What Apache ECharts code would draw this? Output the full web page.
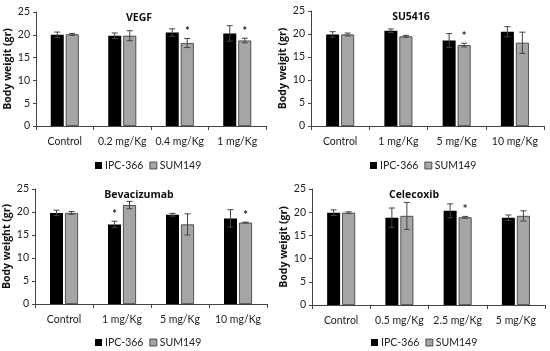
<!DOCTYPE html>
<html>
<head>
<meta charset="utf-8">
<script src="https://cdn.jsdelivr.net/npm/echarts@6/dist/echarts.min.js"></script>
<style>html,body{margin:0;padding:0;background:#fff;}#c{width:550px;height:351px;}</style>
</head>
<body>
<div id="c"></div>
<script>
// ---- data ----
const titles = ['VEGF', 'SU5416', 'Bevacizumab', 'Celecoxib'];
const yNames = ['Body weigit (gr)', 'Body weigit (gr)', 'Body weight (gr)', 'Body weigit (gr)'];
const seriesNames = ['IPC-366', 'SUM149'];

const catsVEGF = ['Control', '0.2 mg/Kg', '0.4 mg/Kg', '1 mg/Kg'];
const catsSU = ['Control', '1 mg/Kg', '5 mg/Kg', '10 mg/Kg'];
const catsBev = ['Control', '1 mg/Kg', '5 mg/Kg', '10 mg/Kg'];
const catsCel = ['Control', '0.5 mg/Kg', '2.5 mg/Kg', '5 mg/Kg'];

const ipcVEGF = [20.0, 19.8, 20.5, 20.3];
const ipcVEGFErr = [0.6, 0.6, 0.8, 1.7];
const sumVEGF = [20.1, 19.8, 18.2, 18.75];
const sumVEGFErr = [0.2, 1.1, 1.0, 0.5];
const ipcVEGFStar = [0, 0, 0, 0];
const sumVEGFStar = [0, 0, 1, 1];

const ipcSU = [19.9, 20.7, 18.6, 20.5];
const ipcSUErr = [0.6, 0.4, 1.5, 1.1];
const sumSU = [19.9, 19.5, 17.6, 18.1];
const sumSUErr = [0.3, 0.2, 0.4, 2.3];
const ipcSUStar = [0, 0, 0, 0];
const sumSUStar = [0, 0, 1, 0];

const ipcBev = [19.8, 17.3, 19.4, 18.6];
const ipcBevErr = [0.6, 0.7, 0.3, 1.9];
const sumBev = [19.8, 21.5, 17.3, 17.7];
const sumBevErr = [0.3, 0.8, 2.3, 0.1];
const ipcBevStar = [0, 1, 0, 0];
const sumBevStar = [0, 0, 0, 1];

const ipcCel = [19.9, 18.8, 20.3, 18.8];
const ipcCelErr = [0.6, 2.1, 1.5, 0.6];
const sumCel = [19.9, 19.2, 18.9, 19.2];
const sumCelErr = [0.2, 2.9, 0.2, 1.1];
const ipcCelStar = [0, 0, 0, 0];
const sumCelStar = [0, 0, 1, 0];

const yTicks = [0, 5, 10, 15, 20, 25];

// ---- layout ----
const FONT = 'Lato, "Open Sans", sans-serif';
const BOLDFONT = '"Open Sans", "Noto Sans", sans-serif';
const panels = [
  {cats: catsVEGF, ipc: ipcVEGF, ipcE: ipcVEGFErr, ipcS: ipcVEGFStar, sum: sumVEGF, sumE: sumVEGFErr, sumS: sumVEGFStar,
   grid: {left: 36, top: 12, width: 230, height: 114}, titleX: 134, titleY: 8, legendTop: 155, legendLeft: 90},
  {cats: catsSU, ipc: ipcSU, ipcE: ipcSUErr, ipcS: ipcSUStar, sum: sumSU, sumE: sumSUErr, sumS: sumSUStar,
   grid: {left: 311, top: 11, width: 233, height: 115}, titleX: 406, titleY: 7, legendTop: 155, legendLeft: 365},
  {cats: catsBev, ipc: ipcBev, ipcE: ipcBevErr, ipcS: ipcBevStar, sum: sumBev, sumE: sumBevErr, sumS: sumBevStar,
   grid: {left: 35, top: 189, width: 232, height: 115}, titleX: 134, titleY: 185, legendTop: 332, legendLeft: 90},
  {cats: catsCel, ipc: ipcCel, ipcE: ipcCelErr, ipcS: ipcCelStar, sum: sumCel, sumE: sumCelErr, sumS: sumCelStar,
   grid: {left: 312, top: 189, width: 233, height: 116}, titleX: 409, titleY: 185, legendTop: 332, legendLeft: 366}
];

const BAR_W = 13;
const GAP = 2;
const colors = ['#000000', '#a5a5a5'];

function errRender(offsetSign, stars) {
  return function (params, api) {
    const idx = api.value(0);
    const v = api.value(1);
    const e = api.value(2);
    const c = api.coord([idx, v]);
    const x = c[0] + offsetSign * (BAR_W + GAP) / 2;
    const top = api.coord([idx, v + e])[1];
    const bot = api.coord([idx, v - e])[1];
    const cap = 3;
    const style = {stroke: '#444', lineWidth: 1};
    const children = [
      {type: 'line', shape: {x1: x, y1: top, x2: x, y2: bot}, style: style},
      {type: 'line', shape: {x1: x - cap, y1: top, x2: x + cap, y2: top}, style: style},
      {type: 'line', shape: {x1: x - cap, y1: bot, x2: x + cap, y2: bot}, style: style}
    ];
    if (stars[params.dataIndex]) {
      children.push({type: 'text', style: {text: '*', x: x, y: top - 1, align: 'center', verticalAlign: 'bottom',
        font: 'bold 11px ' + FONT, fill: '#222'}});
    }
    return {type: 'group', children: children};
  };
}

const option = {
  animation: false,
  backgroundColor: '#fff',
  title: [], grid: [], xAxis: [], yAxis: [], series: [], legend: []
};

panels.forEach(function (p, i) {
  option.grid.push(Object.assign({containLabel: false}, p.grid));
  option.title.push({text: titles[i], left: p.titleX, top: p.titleY, textAlign: 'center',
    textStyle: {fontFamily: BOLDFONT, fontWeight: 'bold', fontSize: 10.5, color: '#111'}});
  option.xAxis.push({type: 'category', gridIndex: i, data: p.cats,
    axisLine: {lineStyle: {color: '#444', width: 1}},
    axisTick: {show: true, length: 4, alignWithLabel: false, lineStyle: {color: '#444'}},
    axisLabel: {interval: 0, fontFamily: FONT, fontSize: 10.5, color: '#222', margin: 10}});
  option.yAxis.push({type: 'value', gridIndex: i, min: 0, max: 25, interval: 5,
    name: yNames[i], nameLocation: 'middle', nameGap: 22, nameRotate: 90,
    nameTextStyle: {fontFamily: BOLDFONT, fontWeight: 'bold', fontSize: 10.5, color: '#111'},
    splitLine: {show: false},
    axisLine: {show: true, lineStyle: {color: '#444', width: 1}},
    axisTick: {show: true, length: 3, inside: false, lineStyle: {color: '#444'}},
    axisLabel: {fontFamily: FONT, fontSize: 10.5, color: '#222', margin: 6}});
  option.series.push({name: seriesNames[0], type: 'bar', xAxisIndex: i, yAxisIndex: i, data: p.ipc,
    barWidth: BAR_W, barGap: (GAP / BAR_W * 100) + '%', itemStyle: {color: colors[0]}});
  option.series.push({name: seriesNames[1], type: 'bar', xAxisIndex: i, yAxisIndex: i, data: p.sum,
    barWidth: BAR_W, barGap: (GAP / BAR_W * 100) + '%', itemStyle: {color: colors[1], borderColor: '#333', borderWidth: 0.8}});
  option.series.push({type: 'custom', xAxisIndex: i, yAxisIndex: i, renderItem: errRender(-1, p.ipcS), z: 5,
    data: p.ipc.map(function (v, k) { return [k, v, p.ipcE[k]]; })});
  option.series.push({type: 'custom', xAxisIndex: i, yAxisIndex: i, renderItem: errRender(1, p.sumS), z: 5,
    data: p.sum.map(function (v, k) { return [k, v, p.sumE[k]]; })});
  option.legend.push({left: p.legendLeft, top: p.legendTop, itemWidth: 7, itemHeight: 7, itemGap: 6,
    icon: 'rect', selectedMode: false,
    textStyle: {fontFamily: FONT, fontSize: 10.5, color: '#222', padding: [0, 0, 0, -2]},
    data: [{name: seriesNames[0]}, {name: seriesNames[1], itemStyle: {borderColor: '#333', borderWidth: 0.8}}]});
});

const chart = echarts.init(document.getElementById('c'), null, {renderer: 'canvas'});
chart.setOption(option);
</script>
</body>
</html>
